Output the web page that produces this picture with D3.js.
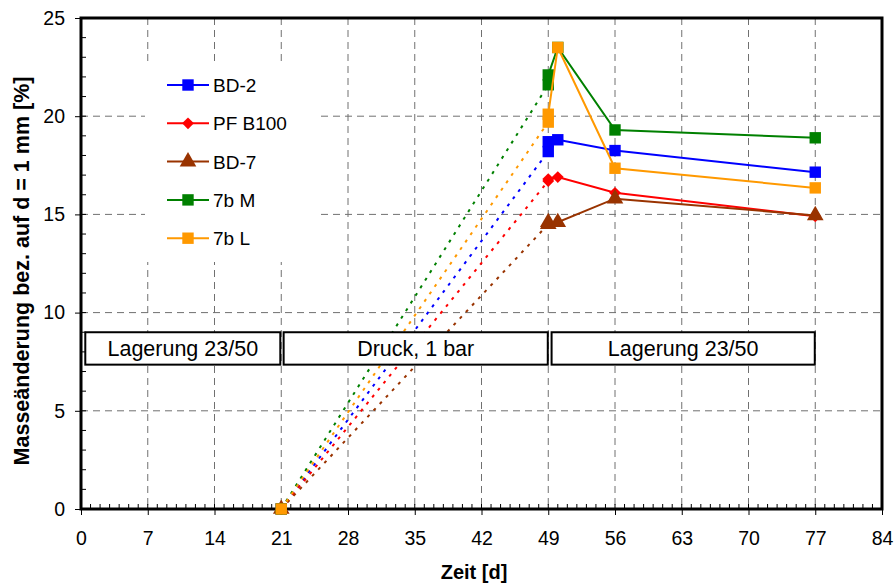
<!DOCTYPE html>
<html>
<head>
<meta charset="utf-8">
<script src="https://cdn.jsdelivr.net/npm/d3@7"></script>
<style>
  body { margin: 0; background: #fff; }
  svg { display: block; font-family: "Liberation Sans", Arial, sans-serif; }
</style>
</head>
<body>
<svg id="chart" width="895" height="588"></svg>
<script>
// Zeitpunkte (Tage) – an Tag 49 zwei Messungen
const tage = [21, 49, 49, 50, 56, 77];

const bd2   = [0, 18.2, 18.7, 18.8, 18.25, 17.15];
const pf100 = [0, 16.7, 16.8, 16.9, 16.1, 14.9];
const bd7   = [0, 14.5, 14.6, 14.6, 15.8, 14.95];
const m7b   = [0, 21.6, 22.1, 23.5, 19.3, 18.9];
const l7b   = [0, 19.7, 20.1, 23.5, 17.35, 16.35];

const namen  = ["BD-2", "PF B100", "BD-7", "7b M", "7b L"];
const farben = ["#0000ff", "#ff0000", "#993300", "#008000", "#ff9900"];
const formen = ["square", "diamond", "triangle", "square", "square"];
const werte  = [bd2, pf100, bd7, m7b, l7b];

const xTicks = d3.range(0, 85, 7);
const yTicks = [0, 5, 10, 15, 20, 25];

// Phasen-Kästen in Datenkoordinaten
const phasen = [
  { text: "Lagerung 23/50", x0: 0.45, x1: 20.9 },
  { text: "Druck, 1 bar", x0: 21.25, x1: 48.95 },
  { text: "Lagerung 23/50", x0: 49.35, x1: 76.95 }
];
const phaseY = [9.0, 7.35];

const margin = { top: 18, right: 13, bottom: 79, left: 81 };
const width = 895 - margin.left - margin.right;
const height = 588 - margin.top - margin.bottom;

const svg = d3.select("#chart");
const g = svg.append("g").attr("transform", `translate(${margin.left},${margin.top})`);

const x = d3.scaleLinear().domain([0, 84]).range([0, width]);
const y = d3.scaleLinear().domain([0, 25]).range([height, 0]);

// Gitter
g.append("g").selectAll("line")
  .data(xTicks.filter(d => d > 0 && d < 84))
  .enter().append("line")
  .attr("x1", d => x(d)).attr("x2", d => x(d))
  .attr("y1", 0).attr("y2", height)
  .attr("stroke", "#707070").attr("stroke-dasharray", "7,5");
g.append("g").selectAll("line")
  .data(yTicks.filter(d => d > 0 && d < 25))
  .enter().append("line")
  .attr("y1", d => y(d)).attr("y2", d => y(d))
  .attr("x1", 0).attr("x2", width)
  .attr("stroke", "#707070").attr("stroke-dasharray", "7,5");

// Legendenhintergrund
g.append("rect")
  .attr("x", 145 - margin.left).attr("y", 64 - margin.top)
  .attr("width", 171).attr("height", 198)
  .attr("fill", "#fff");

// kleine Striche nach innen
g.append("g").selectAll("line")
  .data(d3.range(1, 84))
  .enter().append("line")
  .attr("x1", d => x(d)).attr("x2", d => x(d))
  .attr("y1", height).attr("y2", height - 5)
  .attr("stroke", "#000");
g.append("g").selectAll("line")
  .data(d3.range(1, 25))
  .enter().append("line")
  .attr("y1", d => y(d)).attr("y2", d => y(d))
  .attr("x1", 0).attr("x2", 5)
  .attr("stroke", "#000");

// Achsen
const xAxis = g.append("g")
  .attr("transform", `translate(0,${height})`)
  .call(d3.axisBottom(x).tickValues(xTicks).tickSize(6).tickPadding(16));
const yAxis = g.append("g")
  .call(d3.axisLeft(y).tickValues(yTicks).tickSize(6).tickPadding(10));
[xAxis, yAxis].forEach(a => {
  a.select(".domain").remove();
  a.selectAll(".tick line").attr("stroke", "#000").attr("stroke-width", 1);
  a.selectAll("text").attr("font-size", 19.5).attr("fill", "#000")
    .attr("font-family", "'Liberation Sans', Arial, sans-serif");
});

// Rahmen
g.append("rect").attr("x", 0).attr("y", 0).attr("width", width).attr("height", height)
  .attr("fill", "none").attr("stroke", "#000").attr("stroke-width", 3);

function symbol(form) {
  if (form === "square") return d3.symbol(d3.symbolSquare, 130)();
  if (form === "diamond") return d3.symbol(d3.symbolSquare, 70)();
  return d3.symbol(d3.symbolTriangle, 120)();
}

// Datenreihen
werte.forEach((vals, i) => {
  const pts = tage.map((t, j) => [t, vals[j]]);
  const line = d3.line().x(d => x(d[0])).y(d => y(d[1]));
  g.append("path").datum(pts.slice(0, 2))
    .attr("d", line).attr("fill", "none")
    .attr("stroke", farben[i]).attr("stroke-width", 2)
    .attr("stroke-dasharray", "3,6");
  g.append("path").datum(pts.slice(1))
    .attr("d", line).attr("fill", "none")
    .attr("stroke", farben[i]).attr("stroke-width", 2);
  g.append("g").selectAll("path").data(pts).enter().append("path")
    .attr("d", symbol(formen[i]))
    .attr("transform", d => `translate(${x(d[0])},${y(d[1])})` + (formen[i] === "diamond" ? " rotate(45)" : ""))
    .attr("fill", farben[i]);
});

// Phasen-Kästen (über den Linien)
const ph = g.append("g");
ph.selectAll("rect").data(phasen).enter().append("rect")
  .attr("x", d => x(d.x0)).attr("width", d => x(d.x1) - x(d.x0))
  .attr("y", y(phaseY[0])).attr("height", y(phaseY[1]) - y(phaseY[0]))
  .attr("fill", "#fff").attr("stroke", "#000").attr("stroke-width", 2);
ph.selectAll("text").data(phasen).enter().append("text")
  .attr("x", d => (x(d.x0) + x(d.x1)) / 2)
  .attr("y", (y(phaseY[0]) + y(phaseY[1])) / 2 + 7.5)
  .attr("text-anchor", "middle").attr("font-size", 21.5)
  .text(d => d.text);

// Legende
const leg = g.append("g").attr("transform", `translate(${167 - margin.left},${85 - margin.top})`);
namen.forEach((n, i) => {
  const r = leg.append("g").attr("transform", `translate(0,${i * 38.3})`);
  r.append("line").attr("x1", 0).attr("x2", 42).attr("stroke", farben[i]).attr("stroke-width", 2);
  r.append("path").attr("d", symbol(formen[i]))
    .attr("transform", `translate(21,0)` + (formen[i] === "diamond" ? " rotate(45)" : ""))
    .attr("fill", farben[i]);
  r.append("text").attr("x", 46).attr("y", 7).attr("font-size", 19).text(n);
});

// Achsentitel
svg.append("text")
  .attr("x", 474).attr("y", 579)
  .attr("text-anchor", "middle").attr("font-weight", "bold").attr("font-size", 20)
  .text("Zeit [d]");
svg.append("text")
  .attr("transform", `translate(29,271) rotate(-90)`)
  .attr("text-anchor", "middle").attr("font-weight", "bold").attr("font-size", 21.5)
  .text("Masseänderung bez. auf d = 1 mm [%]");
</script>
</body>
</html>
